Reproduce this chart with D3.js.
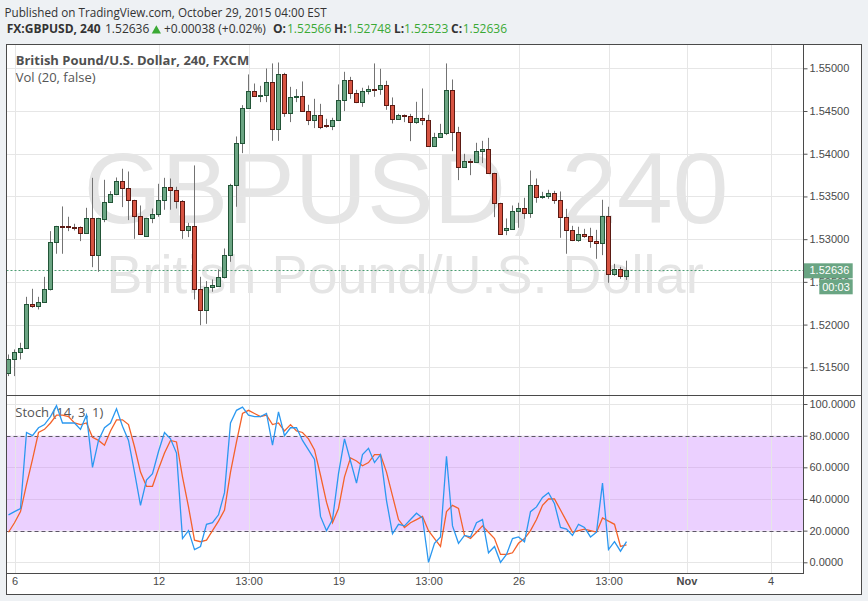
<!DOCTYPE html>
<html><head><meta charset="utf-8">
<script src="https://cdn.jsdelivr.net/npm/d3@7/dist/d3.min.js"></script>
<style>
html,body{margin:0;padding:0;background:#eef1f4;}
svg{display:block;}
</style></head><body>
<svg id="chart" width="868" height="601"></svg>
<script>
// ---------------- DATA ----------------
const opens = [1.51436,1.51599,1.51677,1.51728,1.52243,1.52220,1.52267,1.52419,1.52969,1.53156,
1.53156,1.53145,1.53141,1.53070,1.53250,1.52813,1.53234,1.53437,1.53531,1.53683,
1.53601,1.53461,1.53273,1.53035,1.53250,1.53293,1.53461,1.53613,1.53574,1.53445,
1.53109,1.53156,1.52419,1.52169,1.52442,1.52454,1.52559,1.52817,1.53636,1.54128,
1.54538,1.54737,1.54678,1.54690,1.54834,1.54292,1.54936,1.54479,1.54666,1.54678,
1.54502,1.54397,1.54456,1.54339,1.54327,1.54397,1.54631,1.54865,1.54713,1.54608,
1.54737,1.54760,1.54760,1.54807,1.54573,1.54409,1.54456,1.54444,1.54370,1.54421,
1.54397,1.54093,1.54198,1.54245,1.54748,1.54257,1.53843,1.53913,1.53905,1.54034,
1.54058,1.53777,1.53426,1.53109,1.53121,1.53332,1.53367,1.53308,1.53636,1.53496,
1.53508,1.53543,1.53461,1.53262,1.53109,1.52992,1.53063,1.53039,1.52981,1.52957,
1.53273,1.52594,1.52653,1.52566];
const highs = [1.51650,1.51709,1.51787,1.52325,1.52419,1.52325,1.52559,1.53094,1.53156,1.53383,
1.53262,1.53180,1.53149,1.53367,1.53718,1.53250,1.53695,1.53562,1.53722,1.53824,
1.53792,1.53461,1.53394,1.53250,1.53359,1.53648,1.53718,1.53710,1.53613,1.53457,
1.53191,1.53863,1.52559,1.52509,1.52528,1.52645,1.52891,1.53648,1.54202,1.54569,
1.54928,1.54822,1.54795,1.54998,1.55057,1.55068,1.54947,1.54783,1.54756,1.54846,
1.54573,1.54643,1.54584,1.54409,1.54421,1.54811,1.54959,1.54900,1.54748,1.54772,
1.54799,1.55057,1.54994,1.54854,1.54659,1.54467,1.54460,1.54467,1.54608,1.54764,
1.54456,1.54245,1.54350,1.55057,1.54869,1.54315,1.53999,1.53941,1.54128,1.54151,
1.54186,1.53777,1.53426,1.53242,1.53394,1.53426,1.53484,1.53804,1.53710,1.53554,
1.53578,1.53566,1.53558,1.53355,1.53156,1.53145,1.53121,1.53133,1.53109,1.53461,
1.53379,1.52711,1.52676,1.52748];
const lows = [1.51397,1.51397,1.51592,1.51728,1.52196,1.52177,1.52267,1.52399,1.52829,1.52829,
1.53094,1.53102,1.52977,1.53070,1.52672,1.52618,1.53199,1.53430,1.53515,1.53375,
1.53223,1.53004,1.53055,1.53035,1.53187,1.53262,1.53344,1.53344,1.53359,1.53004,
1.53024,1.52294,1.51993,1.52009,1.52384,1.52454,1.52540,1.52735,1.53379,1.54007,
1.54538,1.54678,1.54604,1.54604,1.54151,1.54151,1.54432,1.54370,1.54604,1.54491,
1.54335,1.54300,1.54288,1.54303,1.54276,1.54382,1.54499,1.54643,1.54592,1.54549,
1.54694,1.54666,1.54690,1.54514,1.54354,1.54397,1.54370,1.54147,1.54350,1.54335,
1.54089,1.54093,1.54198,1.54218,1.54030,1.53691,1.53843,1.53749,1.53905,1.53890,
1.53777,1.53258,1.53063,1.53047,1.53121,1.53133,1.53238,1.53250,1.53426,1.53472,
1.53472,1.53414,1.53016,1.52829,1.52977,1.52969,1.53016,1.52899,1.52770,1.52813,
1.52489,1.52571,1.52536,1.52523];
const closes = [1.51599,1.51677,1.51728,1.52243,1.52220,1.52267,1.52419,1.52969,1.53156,1.53152,
1.53141,1.53137,1.53070,1.53250,1.52813,1.53250,1.53437,1.53531,1.53683,1.53601,
1.53461,1.53273,1.53063,1.53250,1.53293,1.53461,1.53613,1.53574,1.53445,1.53109,
1.53156,1.52419,1.52169,1.52442,1.52462,1.52559,1.52817,1.53636,1.54128,1.54538,
1.54737,1.54678,1.54690,1.54834,1.54292,1.54936,1.54479,1.54666,1.54678,1.54502,
1.54397,1.54456,1.54315,1.54327,1.54397,1.54631,1.54865,1.54713,1.54608,1.54737,
1.54760,1.54756,1.54807,1.54573,1.54409,1.54456,1.54444,1.54370,1.54421,1.54397,
1.54093,1.54198,1.54245,1.54748,1.54257,1.53843,1.53913,1.53905,1.54034,1.54058,
1.53777,1.53426,1.53063,1.53133,1.53332,1.53367,1.53308,1.53636,1.53496,1.53508,
1.53543,1.53461,1.53262,1.53109,1.52992,1.53063,1.53039,1.52981,1.52957,1.53273,
1.52594,1.52653,1.52566,1.52636];
const stochK = [30,32,34,82,80,85,87,92,99,88,
88,88,84,93,60,77,85,88,97,86,
77,57,36,52,56,70,82,78,69,15,
20,8,10,24,25,30,44,88,96,98,
93,92,92,94,74,95,80,85,85,77,
71,65,29,20,27,56,78,64,50,68,
72,63,68,39,18,24,23,27,31,28,
0,12,16,67,23,12,17,16,25,27,
6,10,0,5,15,16,13,32,35,41,
44,37,22,21,17,24,22,16,19,50,
8,13,7,13];
const stochD = [19,25,32,49,65,82,84,88,93,93,
92,88,87,88,79,77,74,83,90,90,
87,73,57,48,48,59,69,77,76,54,
35,14,13,14,20,26,33,57,76,94,
96,94,92,93,87,88,83,87,83,82,
78,71,55,38,25,34,54,66,64,61,
63,68,68,57,42,27,22,25,27,29,
20,15,10,32,36,34,17,15,19,23,
19,15,5,5,6,12,15,20,27,36,
40,40,33,26,19,20,21,20,19,28,
26,24,10,11];
const priceTicks = [1.515,1.520,1.525,1.530,1.535,1.540,1.545,1.550];
const stochTicks = [0,20,40,60,80,100];
const stochBand = [20,80];
const timeLabels = ["6","12","13:00","19","13:00","26","13:00","Nov","4"];
const timeIndex  = [1,25,40,55,70,85,100,113,127];
const lastPrice = 1.52636;
const symbolTitle = "GBPUSD, 240";
const symbolName = "British Pound/U.S. Dollar";

// ---------------- LAYOUT ----------------
const svg = d3.select("#chart");
const L = 6.5, R = 861.5, AX = 803.5, T = 44.5, P1 = 395.5, P2 = 573.5, B = 594.5;
const FONT = "'Open Sans', 'DejaVu Sans', sans-serif";
const AFONT = "'Liberation Sans', Arial, sans-serif";
const up = {fill:"#6ba583", stroke:"#225437"}, dn = {fill:"#d75442", stroke:"#5b1a13"};
const greenTxt = "#3aa934";

const x = d3.scaleLinear().domain([0, 1]).range([8.5, 14.5]);
const y = d3.scaleLinear().domain([1.515, 1.55]).range([367.3, 68.3]);
const ys = d3.scaleLinear().domain([0, 100]).range([562.3, 404]);

// background
svg.append("rect").attr("width",868).attr("height",601).attr("fill","#eef1f4");
svg.append("rect").attr("x",L).attr("y",T).attr("width",R-L).attr("height",B-T).attr("fill","#fff");

// header
svg.append("text").attr("x",4.5).attr("y",17.3).attr("font-family",FONT).attr("font-size",11.7).attr("fill","#333")
  .text("Published on TradingView.com, October 29, 2015 04:00 EST");
const h2 = svg.append("text").attr("y",33.3).attr("font-family",FONT).attr("font-size",12).attr("fill","#333");
const parts = [
  {t:"FX:GBPUSD, 240", x:6.7, b:true},
  {t:"1.52636", x:105},
  {t:"+0.00038 (+0.02%)", x:164},
  {t:"O:", x:273, b:true},{t:"1.52566", x:287, g:true},
  {t:"H:", x:334, b:true},{t:"1.52748", x:346.7, g:true},
  {t:"L:", x:394, b:true},{t:"1.52523", x:404, g:true},
  {t:"C:", x:451, b:true},{t:"1.52636", x:462.7, g:true}
];
parts.forEach(p=>{
  h2.append("tspan").attr("x",p.x).text(p.t)
    .attr("font-weight",p.b?"bold":"normal").attr("fill",p.g?greenTxt:"#333");
});
svg.append("path").attr("d","M151.7,33.5L161,33.5L156.35,25.2Z").attr("fill",greenTxt);

// clip for panes
const defs = svg.append("defs");
defs.append("clipPath").attr("id","cp1").append("rect").attr("x",L).attr("y",T).attr("width",AX-L).attr("height",P1-T);
defs.append("clipPath").attr("id","cp2").append("rect").attr("x",L).attr("y",P1).attr("width",AX-L).attr("height",P2-P1);

// watermark
const wm = svg.append("g").attr("clip-path","url(#cp1)").attr("font-family",AFONT).attr("fill","#e5e5e5").attr("text-anchor","middle");
wm.append("text").attr("x",(L+AX)/2+1).attr("y",223).attr("font-size",100).text(symbolTitle);
wm.append("text").attr("x",(L+AX)/2).attr("y",293).attr("font-size",54).text(symbolName);

// stoch band
svg.append("rect").attr("x",L).attr("width",AX-L)
  .attr("y",ys(stochBand[1])).attr("height",ys(stochBand[0])-ys(stochBand[1]))
  .attr("fill","#ebd0ff");
// grids
const grid = svg.append("g").attr("stroke","#e6e6e6").attr("stroke-width",1).attr("shape-rendering","crispEdges");
priceTicks.forEach(v=>grid.append("line").attr("x1",L).attr("x2",AX).attr("y1",Math.round(y(v))+0.5).attr("y2",Math.round(y(v))+0.5));
stochTicks.forEach(v=>grid.append("line").attr("x1",L).attr("x2",AX).attr("y1",Math.round(ys(v))+0.5).attr("y2",Math.round(ys(v))+0.5)
   .attr("stroke", (v>stochBand[0] && v<stochBand[1]) ? "#dcc0ee" : "#e6e6e6"));
timeIndex.forEach(i=>grid.append("line").attr("x1",Math.round(x(i))+0.5).attr("x2",Math.round(x(i))+0.5).attr("y1",T).attr("y2",P2));

// band dashed lines
stochBand.forEach(v=>svg.append("line").attr("x1",L).attr("x2",AX).attr("y1",Math.round(ys(v))+0.5).attr("y2",Math.round(ys(v))+0.5)
  .attr("stroke","#5d5566").attr("stroke-dasharray","4,3").attr("stroke-width",1));

// legends
svg.append("text").attr("x",15.7).attr("y",65).attr("font-family",FONT).attr("font-size",13).attr("font-weight","bold").attr("fill","#505050")
  .text(symbolName + ", 240, FXCM");
svg.append("text").attr("x",15.7).attr("y",81.5).attr("font-family",FONT).attr("font-size",13).attr("fill","#555")
  .text("Vol (20, false)");
svg.append("text").attr("x",15.3).attr("y",417).attr("font-family",FONT).attr("font-size",13).attr("fill","#555")
  .text("Stoch (14, 3, 1)");

// last price line
svg.append("line").attr("x1",L).attr("x2",AX).attr("y1",Math.round(y(lastPrice))+0.5).attr("y2",Math.round(y(lastPrice))+0.5)
  .attr("stroke","#4c9d72").attr("stroke-dasharray","2,2");

// candles
const idx = d3.range(opens.length);
const cg = svg.append("g").attr("clip-path","url(#cp1)");
cg.selectAll("line.w").data(idx).join("line").attr("class","w")
  .attr("x1",i=>x(i)).attr("x2",i=>x(i)).attr("y1",i=>y(highs[i])).attr("y2",i=>y(lows[i]))
  .attr("stroke","#737373").attr("stroke-width",1);
cg.selectAll("rect.b").data(idx).join("rect").attr("class","b")
  .attr("x",i=>x(i)-2).attr("width",4)
  .attr("y",i=>Math.round(y(Math.max(opens[i],closes[i])))+0.5)
  .attr("height",i=>Math.max(1, Math.round(y(Math.min(opens[i],closes[i])))-Math.round(y(Math.max(opens[i],closes[i])))))
  .attr("fill",i=>closes[i]>=opens[i]?up.fill:dn.fill)
  .attr("stroke",i=>closes[i]>=opens[i]?up.stroke:dn.stroke)
  .attr("stroke-width",1);

// stoch lines
const sg = svg.append("g").attr("clip-path","url(#cp2)");
const line = d3.line().x((d,i)=>x(i)).y(d=>ys(d));
sg.append("path").datum(stochD).attr("d",line).attr("fill","none").attr("stroke","#f4622a").attr("stroke-width",1.3);
sg.append("path").datum(stochK).attr("d",line).attr("fill","none").attr("stroke","#2b98f0").attr("stroke-width",1.3);

// axes
const pa = svg.append("g").attr("transform",`translate(${AX},0)`)
  .call(d3.axisRight(y).tickValues(priceTicks).tickFormat(d3.format(".5f")).tickSize(4).tickPadding(2));
const sa = svg.append("g").attr("transform",`translate(${AX},0)`)
  .call(d3.axisRight(ys).tickValues(stochTicks).tickFormat(d3.format(".4f")).tickSize(4).tickPadding(2));
const ta = svg.append("g").attr("transform",`translate(0,${P2})`)
  .call(d3.axisBottom(x).tickValues(timeIndex).tickFormat((d,i)=>timeLabels[i]).tickSize(0).tickPadding(3.6));
[pa,sa,ta].forEach(g=>{
  g.select(".domain").remove();
  g.selectAll("text").attr("font-family",AFONT).attr("font-size",11).attr("fill","#4a4a4a");
  g.selectAll("line").attr("stroke","#555");
});
ta.selectAll("text").filter((d,i)=>timeLabels[i]==="Nov").attr("font-weight","bold");

// last price labels on axis (drawn over the partly hidden 1.52500 label, as in the source)
svg.append("rect").attr("x",AX).attr("y",263.3).attr("width",852.7-AX).attr("height",15).attr("fill","#6aa583");
svg.append("text").attr("x",809.5).attr("y",y(lastPrice)).attr("dy","0.35em").attr("font-family",AFONT).attr("font-size",11).attr("fill","#fff")
  .text(d3.format(".5f")(lastPrice));
svg.append("rect").attr("x",819.3).attr("y",279.3).attr("width",33.4).attr("height",15).attr("fill","#6aa583");
svg.append("text").attr("x",836).attr("y",287).attr("dy","0.35em").attr("text-anchor","middle").attr("font-family",AFONT).attr("font-size",11).attr("fill","#fff")
  .text("00:03");

// frame lines
const fr = svg.append("g").attr("stroke","#4a4a4a").attr("stroke-width",1).attr("shape-rendering","crispEdges").attr("fill","none");
fr.append("rect").attr("x",L).attr("y",T).attr("width",R-L).attr("height",B-T);
fr.append("line").attr("x1",AX).attr("x2",AX).attr("y1",T).attr("y2",P2);
fr.append("line").attr("x1",L).attr("x2",R).attr("y1",P1).attr("y2",P1);
fr.append("line").attr("x1",L).attr("x2",AX).attr("y1",P2).attr("y2",P2);
</script>
</body></html>
